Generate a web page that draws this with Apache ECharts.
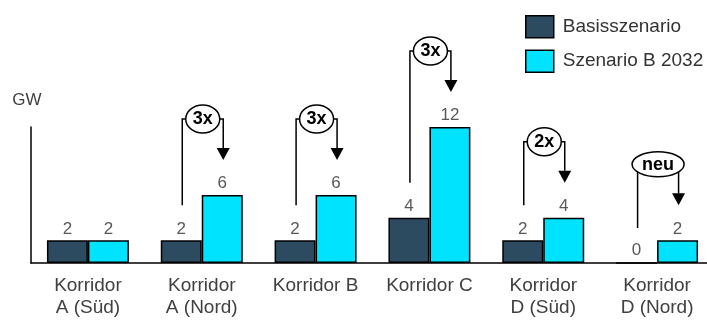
<!DOCTYPE html>
<html>
<head>
<meta charset="utf-8">
<script src="https://cdn.jsdelivr.net/npm/echarts@6/dist/echarts.min.js"></script>
<style>
html,body{margin:0;padding:0;background:#fff;}
#chart{width:707px;height:323px;}
</style>
</head>
<body>
<div id="chart"></div>
<script>
var categories = ['Korridor\nA (Süd)', 'Korridor\nA (Nord)', 'Korridor B', 'Korridor C', 'Korridor\nD (Süd)', 'Korridor\nD (Nord)'];
var baseValues = [2, 2, 2, 4, 2, 0];
var scenValues = [2, 6, 6, 12, 4, 2];
var factorLabels = ['', '3x', '3x', '3x', '2x', 'neu'];
var seriesNames = ['Basisszenario', 'Szenario B 2032'];

var FONT = 'Liberation Sans';
var chart = echarts.init(document.getElementById('chart'), null, {renderer: 'canvas'});

var annData = categories.map(function (c, i) { return [i, baseValues[i], scenValues[i]]; });

function renderAnn(params, api) {
  var i = api.value(0);
  var label = factorLabels[i];
  if (!label) return null;
  var base = api.value(1), scen = api.value(2);
  var cx = api.coord([i, 0])[0];
  var bandW = api.size([1, 0])[0];
  var bw = bandW * 0.36;
  var xL = cx - bw / 2 + 1, xR = cx + bw / 2 + 1;
  var darkTop = api.coord([i, base])[1];
  var cyanTop = api.coord([i, scen])[1];
  var by = cyanTop - 76;
  var ex = (xL + xR) / 2;
  var rx = label.length > 2 ? 26 : 17;
  var ry = label.length > 2 ? 12.5 : 14;
  var tip = cyanTop - 35;
  var leftBottom = darkTop - 35;
  var stroke = {stroke: '#000', lineWidth: 1.5, fill: null};
  function edgeY(x) {
    var d = (x - ex) / rx;
    return by + ry * Math.sqrt(Math.max(0, 1 - d * d));
  }
  var leftPts, rightPts;
  if (Math.abs(xL - ex) < rx) {
    leftPts = [[xL, leftBottom], [xL, edgeY(xL)]];
    rightPts = [[xR, edgeY(xR)], [xR, tip - 12]];
  } else {
    leftPts = [[xL, leftBottom], [xL, by], [ex - rx, by]];
    rightPts = [[ex + rx, by], [xR, by], [xR, tip - 12]];
  }
  return {
    type: 'group',
    children: [
      {type: 'polyline', shape: {points: leftPts}, style: stroke},
      {type: 'polyline', shape: {points: rightPts}, style: stroke},
      {type: 'polygon', shape: {points: [[xR - 6.5, tip - 12], [xR + 6.5, tip - 12], [xR, tip]]}, style: {fill: '#000'}},
      {type: 'ellipse', shape: {cx: ex, cy: by, rx: rx, ry: ry}, style: {fill: '#fff', stroke: '#000', lineWidth: 1.5}},
      {type: 'text', style: {text: label, x: ex, y: by + 0.5, align: 'center', verticalAlign: 'middle', fontSize: 18, fontWeight: 'bold', fontFamily: FONT, fill: '#000'}}
    ]
  };
}

var option = {
  animation: false,
  backgroundColor: '#fff',
  grid: {left: 31, width: 683, top: 127, bottom: 60, containLabel: false, outerBoundsMode: 'none'},
  legend: {
    data: seriesNames,
    orient: 'vertical',
    icon: 'rect',
    left: 520, top: 10,
    itemWidth: 28, itemHeight: 22, itemGap: 11,
    itemStyle: {borderColor: '#000', borderWidth: 1.5},
    textStyle: {fontSize: 19, fontFamily: FONT, color: '#333', padding: [0, 0, 0, 4]}
  },
  xAxis: {
    type: 'category',
    data: categories,
    axisLine: {show: true, lineStyle: {color: '#000', width: 1.5}},
    axisTick: {show: false},
    axisLabel: {fontSize: 19, fontFamily: FONT, color: '#404040', lineHeight: 22, margin: 12, interval: 0}
  },
  yAxis: {
    type: 'value', min: 0, max: 12,
    name: 'GW', nameLocation: 'end', nameGap: 18,
    nameTextStyle: {fontSize: 17, fontFamily: FONT, color: '#404040', padding: [0, 8, 0, 0]},
    axisLine: {show: true, lineStyle: {color: '#000', width: 1.5}},
    axisTick: {show: false},
    axisLabel: {show: false},
    splitLine: {show: false}
  },
  series: [
    {
      name: seriesNames[0], type: 'bar', data: baseValues,
      barGap: '0%', barCategoryGap: '28%',
      itemStyle: {color: '#2d4b60', borderColor: '#000', borderWidth: 1.5},
      label: {show: true, position: 'top', distance: 3, fontSize: 17, fontFamily: FONT, color: '#595959'}
    },
    {
      name: seriesNames[1], type: 'bar', data: scenValues,
      barGap: '0%', barCategoryGap: '28%',
      itemStyle: {color: '#00e3ff', borderColor: '#000', borderWidth: 1.5},
      label: {show: true, position: 'top', distance: 3, fontSize: 17, fontFamily: FONT, color: '#595959'}
    },
    {
      type: 'custom', data: annData, clip: false, silent: true, z: 5,
      encode: {x: 0, y: [1, 2]},
      renderItem: renderAnn
    }
  ]
};
chart.setOption(option);
</script>
</body>
</html>
